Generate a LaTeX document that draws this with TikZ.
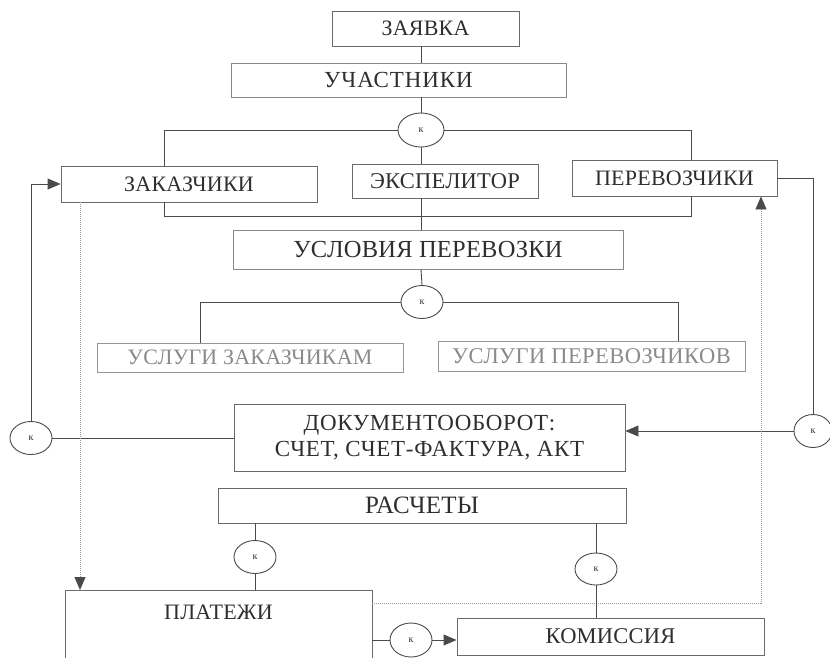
\documentclass[tikz,border=0pt]{standalone}
\usepackage{fontspec}
\setmainfont{Liberation Serif}
\usetikzlibrary{arrows.meta,shapes.geometric}
\definecolor{ln}{HTML}{4A4A4A}
\definecolor{lbox}{HTML}{6A6A6A}
\definecolor{txt}{HTML}{2E2E2E}
\definecolor{ltxt}{HTML}{8A8A8A}
\definecolor{dotc}{HTML}{9A9A9A}
\newcommand\mysz[2]{\fontsize{#1}{#1}\selectfont\addfontfeature{LetterSpace=#2}}
\begin{document}
\begin{tikzpicture}[x=1pt,y=-1pt,
  box/.style={draw=lbox,line width=0.9pt,rectangle,inner sep=0pt,text=txt,
    font=\mysz{22}{1}},
  lightbox/.style={box,draw=ltxt!90,text=ltxt},
  kcirc/.style={draw=ln,line width=0.9pt,ellipse,inner sep=0pt,
    minimum width=42pt,minimum height=33pt,fill=white,text=txt,
    font=\fontsize{10}{10}\selectfont},
  conn/.style={draw=ln,line width=0.9pt},
  arr/.style={conn,-{Triangle[length=13pt,width=11pt]}},
  dots/.style={draw=dotc,line width=0.9pt,dash pattern=on 1pt off 1pt},
  dotarr/.style={dots,-{Triangle[length=13pt,width=11pt,color=ln,fill=ln]}}
]
\useasboundingbox (0,0) rectangle (830,657);
\clip (0,0) rectangle (830,657);
% boxes
\node[box,minimum width=187pt,minimum height=35pt,font=\mysz{22}{1}] (zay) at (425.5,28.5) {ЗАЯВКА};
\node[box,minimum width=335pt,minimum height=34pt,draw=lbox!80,font=\mysz{23}{4}] (uch) at (398.5,80) {УЧАСТНИКИ};
\node[box,minimum width=256pt,minimum height=36pt,font=\mysz{22}{1}] (zak) at (189,184) {ЗАКАЗЧИКИ};
\node[box,minimum width=186pt,minimum height=34pt,font=\mysz{22.5}{1}] (exp) at (445,181) {ЭКСПЕЛИТОР};
\node[box,minimum width=205pt,minimum height=36pt,font=\mysz{22}{1}] (per) at (674.5,178) {ПЕРЕВОЗЧИКИ};
\node[box,minimum width=390pt,minimum height=39pt,draw=lbox!80,font=\mysz{24.5}{1}] (usl) at (428,249.5) {УСЛОВИЯ ПЕРЕВОЗКИ};
\node[lightbox,minimum width=306pt,minimum height=29pt,font=\mysz{22}{1}] (uzak) at (250,357.5) {УСЛУГИ ЗАКАЗЧИКАМ};
\node[lightbox,minimum width=307pt,minimum height=30pt,font=\mysz{22.5}{2}] (uper) at (591.5,356) {УСЛУГИ ПЕРЕВОЗЧИКОВ};
\node[box,minimum width=391pt,minimum height=67pt,align=center,font=\mysz{23}{3}] (doc) at (429.5,438) {ДОКУМЕНТООБОРОТ:\\[3pt]СЧЕТ, СЧЕТ-ФАКТУРА, АКТ};
\node[box,minimum width=408pt,minimum height=35pt,font=\mysz{25}{1}] (ras) at (422,505.5) {РАСЧЕТЫ};
\node[box,minimum width=307pt,anchor=north,inner ysep=14pt,text height=15pt,text depth=80pt,font=\mysz{22}{1}] (pla) at (218.5,590) {ПЛАТЕЖИ};
\node[box,minimum width=307pt,minimum height=37pt,font=\mysz{22.5}{1}] (kom) at (610.5,636.5) {КОМИССИЯ};
% circles
\node[kcirc,minimum width=46pt,minimum height=34pt] (k1) at (421,130) {к};
\node[kcirc] (k2) at (422,302) {к};
\node[kcirc] (k3) at (31,438) {к};
\node[kcirc,minimum width=38pt] (k4) at (813,431) {к};
\node[kcirc] (k5) at (255,557) {к};
\node[kcirc,minimum height=32pt] (k6) at (596,569) {к};
\node[kcirc,minimum height=34pt] (k7) at (411,640) {к};
% helper coordinates
\coordinate (bz) at (164,0);
\coordinate (bp) at (691,0);
\coordinate (yb) at (0,216);
\coordinate (ul) at (200,0);
\coordinate (ur) at (678,0);
\coordinate (dz) at (80,0);
\coordinate (dr) at (761,0);
\coordinate (dy) at (0,603);
% connectors
\draw[conn] (k1 |- zay.south) -- (k1 |- uch.north);
\draw[conn] (k1 |- uch.south) -- (k1.north);
\draw[conn] (k1.west) -| (bz |- zak.north);
\draw[conn] (k1.east) -| (bp |- per.north);
\draw[conn] (bz |- zak.south) -- (bz |- yb) -- (bp |- yb) -- (bp |- per.south);
\draw[conn] (k1.south) -- (k1 |- exp.north);
\draw[conn] (k1 |- exp.south) -- (k1 |- usl.north);
\draw[conn] (k1 |- usl.south) -- (k2.north);
\draw[conn] (k2.west) -| (ul |- uzak.north);
\draw[conn] (k2.east) -| (ur |- uper.north);
\draw[arr] (k3.north) |- (zak.west);
\draw[conn] (k3.east) -- (k3 -| doc.west);
\draw[conn] (per.east) -| (k4.north);
\draw[arr] (k4.west) -- (k4 -| doc.east);
\draw[dotarr] (dz |- zak.south) -- (dz |- pla.north);
\draw[dotarr] (pla.east |- dy) -- (dr |- dy) -- (dr |- per.south);
\draw[conn] (k5 |- ras.south) -- (k5.north);
\draw[conn] (k5.south) -- (k5 |- pla.north);
\draw[conn] (k6 |- ras.south) -- (k6.north);
\draw[conn] (k6.south) -- (k6 |- kom.north);
\draw[conn] (pla.east |- k7) -- (k7.west);
\draw[arr] (k7.east) -- (k7 -| kom.west);
\end{tikzpicture}
\end{document}
